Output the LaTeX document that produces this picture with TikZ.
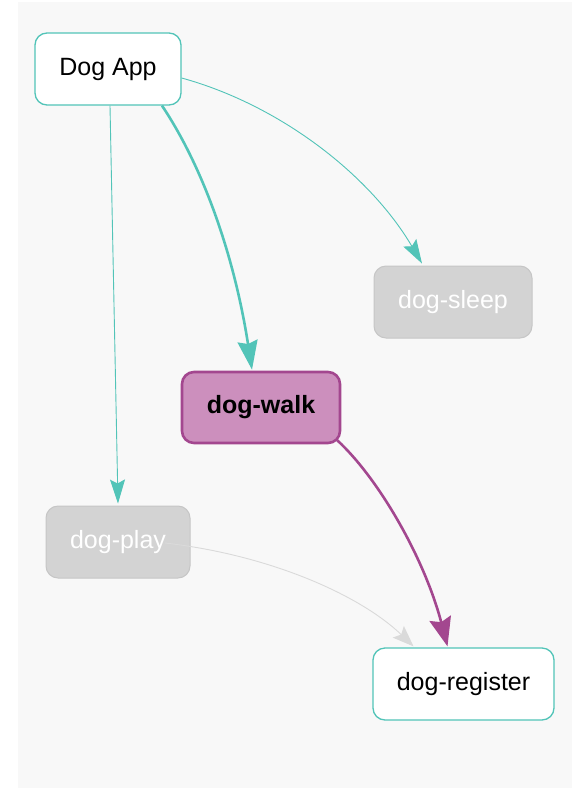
\documentclass[tikz,border=0pt]{standalone}
\usepackage{fontspec}
\setmainfont{Liberation Sans}
\usetikzlibrary{arrows.meta,calc}
\definecolor{teal1}{HTML}{52C4B8}
\definecolor{purp}{HTML}{A3478F}
\definecolor{purpfill}{HTML}{CC8FBD}
\definecolor{grayfill}{HTML}{D3D3D3}
\definecolor{grayline}{HTML}{C6C6C6}
\definecolor{grayedge}{HTML}{DADADA}
\definecolor{bg}{HTML}{F8F8F8}
\tikzset{
  box/.style={rounded corners=12pt, minimum height=72pt, inner sep=0pt, font=\fontsize{25}{28}\selectfont},
  whitebox/.style={box, draw=teal1, line width=1.3pt, fill=white, text=black},
  greybox/.style={box, draw=grayline, line width=1pt, fill=grayfill, text=white},
  walkbox/.style={box, draw=purp, line width=2.6pt, fill=purpfill, text=black, font=\fontsize{25}{28}\selectfont\bfseries},
  thinedge/.style={draw=teal1, line width=0.9pt, -{Stealth[length=24pt,width=15pt,inset=4pt]}, color=teal1},
  thickedge/.style={draw=teal1, line width=2.6pt, -{Stealth[length=29pt,width=20pt,inset=3pt]}, color=teal1},
  purpedge/.style={draw=purp, line width=2.6pt, -{Stealth[length=29pt,width=22pt,inset=4pt]}, color=purp},
  greyedge/.style={draw=grayedge, line width=0.9pt, -{Stealth[length=21pt,width=16pt,inset=4pt]}, color=grayedge},
}
\begin{document}
\begin{tikzpicture}[x=1pt,y=-1pt]
\useasboundingbox (0,0) rectangle (576,788);
\fill[bg] (18,2) rectangle (572,788);
\node[whitebox, minimum width=146pt] (app) at (108,69) {Dog App};
\node[greybox, minimum width=158pt] (sleep) at (453,302) {dog-sleep};
\node[walkbox, minimum width=158pt, minimum height=71pt] (walk) at (261,407.5) {dog-walk};
\node[greybox, minimum width=144pt] (play) at (118,542) {dog-play};
\node[whitebox, minimum width=181pt] (reg) at (463.5,684) {dog-register};
\coordinate (a1) at ($(app.east)+(0,9)$);
\coordinate (a2) at ($(app.south)+(54,0)$);
\coordinate (a3) at ($(app.south)+(2,0)$);
\coordinate (s1) at ($(sleep.north)+(-31,-2)$);
\coordinate (w1) at ($(walk.north)+(-9,-1)$);
\coordinate (p1) at ($(play.north)+(0,-2)$);
\coordinate (p0) at ($(play.center)+(47,1)$);
\coordinate (r1) at ($(reg.north)+(-50,-1)$);
\coordinate (r2) at ($(reg.north)+(-16,-1)$);
\coordinate (w0) at ($(walk.south east)+(-4,-4)$);
\draw[thinedge] (a1) .. controls (280,105) and (370,175) .. (s1);
\draw[thickedge] (a2) .. controls (205,170) and (235,260) .. (w1);
\draw[thinedge] (a3) -- (p1);
\draw[greyedge] (p0) .. controls (270,555) and (360,595) .. (r1);
\draw[purpedge] (w0) .. controls (380,480) and (425,560) .. (r2);
\end{tikzpicture}
\end{document}
